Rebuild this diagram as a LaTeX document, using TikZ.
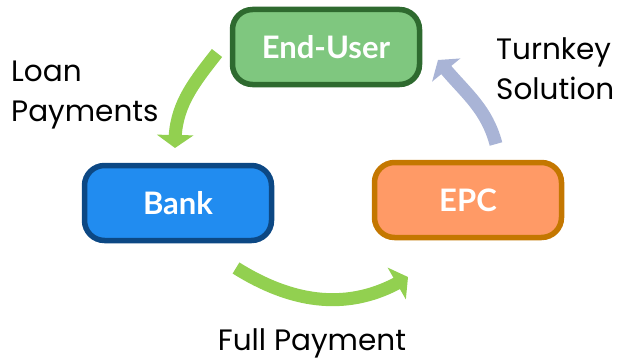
\documentclass[tikz,border=0pt]{standalone}
\usepackage{fontspec}
\setmainfont{Poppins}
\newfontfamily\boxfont{Lato}
\usetikzlibrary{arrows.meta,bending}

\definecolor{userfill}{HTML}{7FC77F}
\definecolor{userline}{HTML}{2E6A2F}
\definecolor{bankfill}{HTML}{218CF0}
\definecolor{bankline}{HTML}{0C4884}
\definecolor{epcfill}{HTML}{FF9A66}
\definecolor{epcline}{HTML}{C47700}
\definecolor{flowgreen}{HTML}{92D050}
\definecolor{flowblue}{HTML}{A9B4D6}

\tikzset{
  party/.style={draw, line width=5.5pt, rounded corners=20pt,
    minimum width=187pt, minimum height=75pt, text=white,
    font=\boxfont\bfseries\fontsize{31}{36}\selectfont},
  flow/.style={line width=13pt,
    -{Triangle[length=13pt,width=36pt,flex]}},
  caption/.style={font=\fontsize{29.5}{40}\selectfont, text=black, inner sep=0pt}
}

\begin{document}
\begin{tikzpicture}[x=1pt,y=1pt]
\useasboundingbox (0,0) rectangle (617,357);

% parties
\node[party, fill=userfill, draw=userline] (user) at (326,310) {End-User};
\node[party, fill=bankfill, draw=bankline] (bank) at (178,154) {Bank};
\node[party, fill=epcfill, draw=epcline] (epc) at (468,157) {EPC};

% arrow end points
\coordinate (loanS) at (217,304);
\coordinate (loanE) at (175,209);
\coordinate (fullS) at (236,89);
\coordinate (fullE) at (408,80);
\coordinate (turnS) at (496,213);
\coordinate (turnE) at (438,297);

% money and delivery flows
\draw[flow, flowgreen] (loanS) to[out=-128, in=92] (loanE);
\draw[flow, flowgreen] (fullS) to[out=-32, in=-148] (fullE);
\draw[flow, flowblue] (turnS) to[out=105, in=-52] (turnE);

% labels
\node[caption, align=left, anchor=north west] (loanlbl) at (11,296) {Loan\\Payments};
\node[caption, align=left, anchor=north west] (turnlbl) at (496,320) {Turnkey\\Solution};
\node[caption, anchor=base] (fulllbl) at (312,7) {Full Payment};
\end{tikzpicture}
\end{document}
